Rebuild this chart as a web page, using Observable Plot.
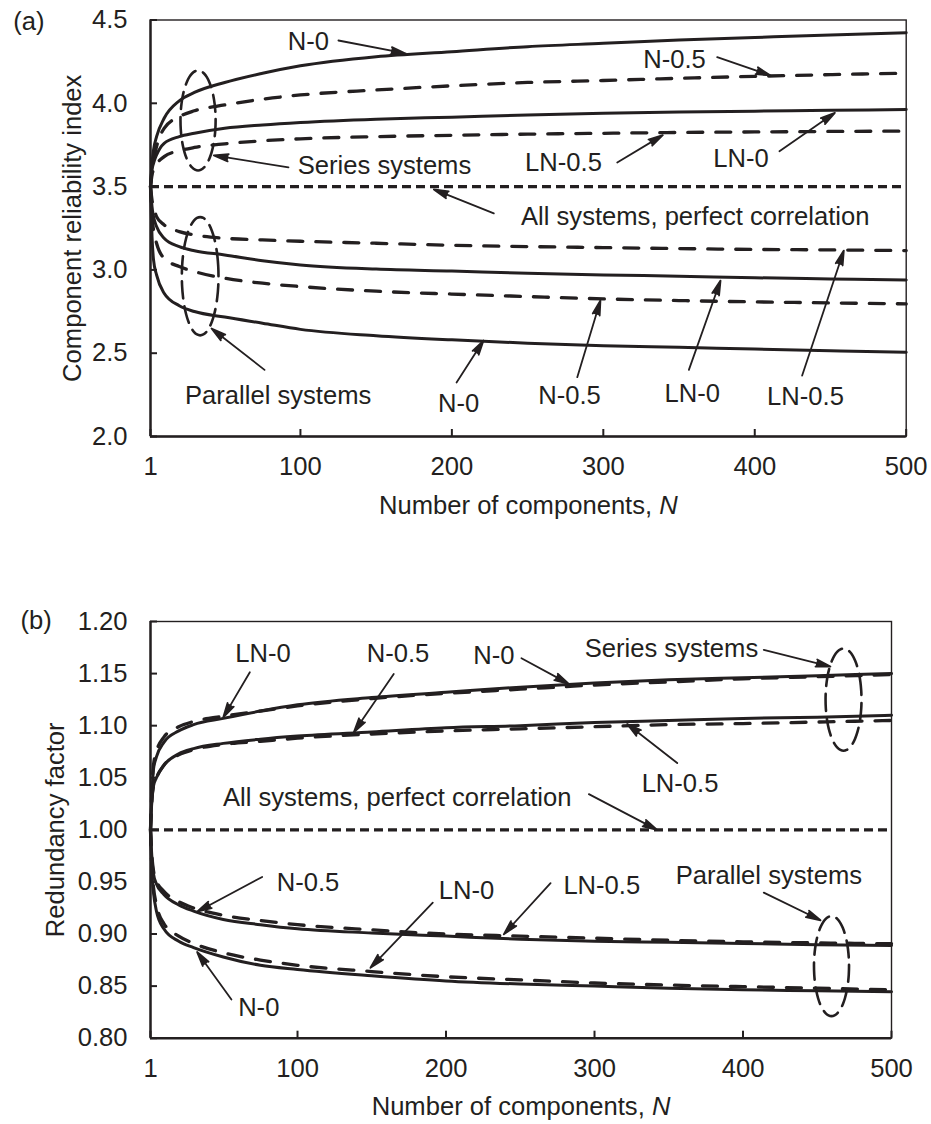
<!DOCTYPE html>
<html><head><meta charset="utf-8">
<script src="https://cdn.jsdelivr.net/npm/d3@7"></script>
<script src="https://cdn.jsdelivr.net/npm/@observablehq/plot@0.6"></script>
<style>
body{margin:0;background:#fff;}
#chart{position:relative;width:931px;height:1124px;}
#chart svg{display:block;}
#chart g[aria-label="arrow"] path{fill:#231f20;stroke-linejoin:miter;}
</style></head><body><div id="chart"></div>
<script>
// ---------- shared ----------
const N = [1,2,3,5,10,20,30,50,75,100,150,200,250,300,350,400,450,500];
const xTicks = [1,100,200,300,400,500];

// ---------- panel (a): component reliability index ----------
const aSeriesN0   = [3.5,3.64,3.72,3.8,3.91,4.015,4.065,4.125,4.18,4.225,4.28,4.31,4.34,4.36,4.38,4.395,4.41,4.423];
const aSeriesN05  = [3.5,3.6,3.66,3.74,3.85,3.92,3.955,3.99,4.025,4.05,4.08,4.105,4.125,4.137,4.15,4.162,4.172,4.181];
const aSeriesLN0  = [3.5,3.6,3.64,3.69,3.76,3.8,3.82,3.85,3.87,3.885,3.905,3.917,3.93,3.94,3.948,3.953,3.958,3.963];
const aSeriesLN05 = [3.5,3.57,3.6,3.635,3.68,3.715,3.735,3.757,3.775,3.787,3.8,3.808,3.815,3.82,3.825,3.828,3.831,3.833];
const aParLN05    = [3.5,3.42,3.38,3.32,3.27,3.23,3.21,3.19,3.18,3.172,3.16,3.148,3.14,3.134,3.128,3.123,3.12,3.116];
const aParLN0     = [3.5,3.38,3.32,3.26,3.19,3.14,3.115,3.09,3.055,3.03,3.005,2.993,2.98,2.97,2.962,2.953,2.946,2.94];
const aParN05     = [3.5,3.32,3.24,3.16,3.07,3.02,2.99,2.95,2.92,2.9,2.872,2.855,2.84,2.826,2.816,2.808,2.802,2.796];
const aParN0      = [3.5,3.2,3.06,2.97,2.86,2.785,2.75,2.717,2.68,2.643,2.605,2.58,2.56,2.545,2.535,2.525,2.515,2.506];
const aPerfect = 3.5;
const aYTicks = [2.0,2.5,3.0,3.5,4.0,4.5];

const aLabels = [
  {x:105.3,y:4.371,t:"N-0"},{x:347,y:4.263,t:"N-0.5"},{x:273.7,y:3.645,t:"LN-0.5"},
  {x:390.9,y:3.669,t:"LN-0"},{x:155.5,y:3.627,t:"Series systems"},
  {x:360.7,y:3.316,t:"All systems, perfect correlation"},{x:85.3,y:2.246,t:"Parallel systems"},
  {x:204.4,y:2.198,t:"N-0"},{x:277.7,y:2.246,t:"N-0.5"},{x:358.7,y:2.258,t:"LN-0"},{x:433.5,y:2.236,t:"LN-0.5"}
];
const aArrows = [
  {x1:125.1,y1:4.377,x2:169.4,y2:4.299},{x1:375.2,y1:4.277,x2:410.4,y2:4.167},
  {x1:309.2,y1:3.645,x2:339.3,y2:3.809},{x1:416.3,y1:3.712,x2:452.9,y2:3.943},
  {x1:92.1,y1:3.616,x2:42.8,y2:3.687},{x1:227.7,y1:3.339,x2:188.1,y2:3.483},
  {x1:76.3,y1:2.4,x2:41.3,y2:2.648},{x1:203.1,y1:2.324,x2:220.9,y2:2.576},
  {x1:282.8,y1:2.356,x2:298.1,y2:2.816},{x1:356.5,y1:2.4,x2:377.4,y2:2.936},
  {x1:431.3,y1:2.366,x2:458.8,y2:3.116}
];
const aEllipses = [{cx:32.4,cy:3.897,rx:11.6,ry:0.300},{cx:33.8,cy:2.962,rx:12.1,ry:0.355}];

// ---------- panel (b): redundancy factor ----------
const bSeriesN0   = [1.0,1.035,1.058,1.07,1.084,1.095,1.101,1.107,1.114,1.12,1.127,1.132,1.137,1.141,1.144,1.146,1.148,1.15];
const bSeriesLN0  = [1.0,1.04,1.062,1.075,1.089,1.099,1.104,1.109,1.114,1.119,1.126,1.131,1.135,1.139,1.142,1.145,1.147,1.149];
const bSeriesN05  = [1.0,1.03,1.042,1.05,1.062,1.073,1.078,1.083,1.087,1.09,1.094,1.098,1.1,1.103,1.105,1.107,1.108,1.11];
const bSeriesLN05 = [1.0,1.03,1.042,1.05,1.062,1.072,1.077,1.082,1.085,1.088,1.092,1.095,1.097,1.099,1.101,1.102,1.1035,1.105];
const bParN05     = [1.0,0.972,0.958,0.948,0.938,0.928,0.922,0.914,0.909,0.905,0.901,0.898,0.895,0.893,0.892,0.891,0.8898,0.889];
const bParLN05    = [1.0,0.974,0.961,0.951,0.941,0.931,0.925,0.918,0.913,0.909,0.904,0.9,0.898,0.896,0.894,0.8925,0.8915,0.8907];
const bParN0      = [1.0,0.958,0.94,0.922,0.905,0.893,0.887,0.878,0.87,0.866,0.86,0.855,0.852,0.85,0.848,0.8465,0.8455,0.8445];
const bParLN0     = [1.0,0.962,0.945,0.928,0.91,0.898,0.891,0.882,0.875,0.87,0.864,0.859,0.856,0.853,0.851,0.8495,0.848,0.8465];
const bPerfect = 1.0;
const bYTicks = [0.80,0.85,0.90,0.95,1.00,1.05,1.10,1.15,1.20];

const bLabels = [
  {x:76.8,y:1.1692,t:"LN-0"},{x:167.7,y:1.1692,t:"N-0.5"},{x:232.2,y:1.1673,t:"N-0"},
  {x:351.8,y:1.174,t:"Series systems"},{x:357.6,y:1.0442,t:"LN-0.5"},
  {x:167.1,y:1.031,t:"All systems, perfect correlation"},{x:107.1,y:0.9493,t:"N-0.5"},
  {x:213.8,y:0.9413,t:"LN-0"},{x:304.9,y:0.9462,t:"LN-0.5"},{x:73.9,y:0.8291,t:"N-0"},
  {x:417.4,y:0.9558,t:"Parallel systems"}
];
const bArrows = [
  {x1:67.9,y1:1.1513,x2:50,y2:1.108},{x1:164.8,y1:1.1497,x2:137.9,y2:1.0936},
  {x1:250.8,y1:1.1647,x2:282.7,y2:1.1401},{x1:414,y1:1.1728,x2:458.9,y2:1.1567},
  {x1:355.7,y1:1.0641,x2:322,y2:1.1016},{x1:296.2,y1:1.0343,x2:342.2,y2:1.0},
  {x1:76.2,y1:0.9548,x2:32.4,y2:0.9214},{x1:191.1,y1:0.9301,x2:149.1,y2:0.8676},
  {x1:270.4,y1:0.9488,x2:238.9,y2:0.8997},{x1:55.5,y1:0.8372,x2:32.4,y2:0.8827},
  {x1:414,y1:0.9397,x2:452.2,y2:0.9132}
];
const bEllipses = [{cx:467.7,cy:1.125,rx:12.1,ry:0.049},{cx:459.6,cy:0.8692,rx:11.8,ry:0.048}];

// ---------- helpers ----------
const ink = "#231f20";
const fontFamily = "'Liberation Sans', Arial, Helvetica, sans-serif";
const fs = 25.6;

function table(list) {
  const out = [];
  for (const s of list) N.forEach((n, i) => out.push({name: s.name, dashed: s.dashed, N: n, v: s.values[i]}));
  return out;
}
function ellipsePts(list) {
  const out = [];
  list.forEach((e, k) => {
    for (let j = 0; j < 36; j++) {
      const t = (j / 36) * 2 * Math.PI;
      out.push({k, x: e.cx + e.rx * Math.cos(t), y: e.cy + e.ry * Math.sin(t)});
    }
  });
  return out;
}

function panel({rows, perfect, yTicks, yFmt, yDomain, labels, arrows, ellipses, tag, tagDx, tagDy,
                yLabel, yLabelDx, height, marginTop, marginBottom, marginRight}) {
  const solid = rows.filter(d => !d.dashed), dashed = rows.filter(d => d.dashed);
  const wFirst = 10.671 * fs, wSpace = 0.278 * fs, wN = 0.722 * fs;
  const start = -(wFirst + wSpace + wN) / 2;
  return Plot.plot({
    width: 931, height, marginLeft: 150, marginRight, marginTop, marginBottom,
    style: {fontFamily, fontSize: fs + "px", color: ink, background: "#fff", overflow: "visible"},
    x: {domain: [1, 500]},
    y: {domain: yDomain},
    marks: [
      Plot.axisX({ticks: xTicks, tickSize: -7, tickPadding: 27.7, tickFormat: d => String(d), label: null, strokeWidth: 2}),
      Plot.axisY({ticks: yTicks, tickSize: -7, tickPadding: 30, tickFormat: yFmt, label: null, strokeWidth: 2}),
      Plot.frame({stroke: ink, strokeWidth: 1.4}),
      Plot.ruleX([1], {stroke: ink, strokeWidth: 2.4}),
      Plot.ruleY([yDomain[0]], {stroke: ink, strokeWidth: 2.4}),
      Plot.ruleY([perfect], {stroke: ink, strokeWidth: 3.2, strokeDasharray: "9,5"}),
      Plot.line(dashed, {x: "N", y: "v", z: "name", stroke: ink, strokeWidth: 3.3, strokeDasharray: "15,13", curve: "monotone-x"}),
      Plot.line(solid, {x: "N", y: "v", z: "name", stroke: ink, strokeWidth: 3, curve: "monotone-x"}),
      Plot.line(ellipsePts(ellipses), {x: "x", y: "y", z: "k", stroke: ink, strokeWidth: 2.6, strokeDasharray: "17,8", curve: "cardinal-closed"}),
      Plot.arrow(arrows, {x1: "x1", y1: "y1", x2: "x2", y2: "y2", stroke: ink, fill: ink, strokeWidth: 1.8, headLength: 12.5, headAngle: 28}),
      Plot.text(labels, {x: "x", y: "y", text: "t", fill: ink}),
      Plot.text([tag], {frameAnchor: "top-left", dx: tagDx, dy: tagDy, textAnchor: "start", lineAnchor: "bottom", fill: ink}),
      Plot.text([yLabel], {frameAnchor: "left", rotate: -90, dx: yLabelDx, lineAnchor: "bottom", textAnchor: "middle", fill: ink}),
      Plot.text(["Number of components,"], {frameAnchor: "bottom", dx: start + wFirst, dy: 77, textAnchor: "end", lineAnchor: "bottom", fill: ink}),
      Plot.text(["N"], {frameAnchor: "bottom", dx: start + wFirst + wSpace, dy: 77, textAnchor: "start", lineAnchor: "bottom", fill: ink, fontStyle: "italic"})
    ]
  });
}

const rowsA = table([
  {name: "aSeriesN0", dashed: false, values: aSeriesN0},
  {name: "aSeriesN05", dashed: true, values: aSeriesN05},
  {name: "aSeriesLN0", dashed: false, values: aSeriesLN0},
  {name: "aSeriesLN05", dashed: true, values: aSeriesLN05},
  {name: "aParLN05", dashed: true, values: aParLN05},
  {name: "aParLN0", dashed: false, values: aParLN0},
  {name: "aParN05", dashed: true, values: aParN05},
  {name: "aParN0", dashed: false, values: aParN0}
]);
const rowsB = table([
  {name: "bSeriesN0", dashed: false, values: bSeriesN0},
  {name: "bSeriesLN0", dashed: true, values: bSeriesLN0},
  {name: "bSeriesN05", dashed: false, values: bSeriesN05},
  {name: "bSeriesLN05", dashed: true, values: bSeriesLN05},
  {name: "bParN05", dashed: false, values: bParN05},
  {name: "bParLN05", dashed: true, values: bParLN05},
  {name: "bParN0", dashed: false, values: bParN0},
  {name: "bParLN0", dashed: true, values: bParLN0}
]);

const chart = document.getElementById("chart");
chart.appendChild(panel({
  rows: rowsA, perfect: aPerfect, yTicks: aYTicks, yFmt: d3.format(".1f"), yDomain: [2, 4.5],
  labels: aLabels, arrows: aArrows, ellipses: aEllipses, tag: "(a)", tagDx: -137.3, tagDy: 9.8,
  yLabel: "Component reliability index", yLabelDx: -70,
  height: 560, marginTop: 19.5, marginBottom: 124, marginRight: 25.3
}));
chart.appendChild(panel({
  rows: rowsB, perfect: bPerfect, yTicks: bYTicks, yFmt: d3.format(".2f"), yDomain: [0.8, 1.2],
  labels: bLabels, arrows: bArrows, ellipses: bEllipses, tag: "(b)", tagDx: -130, tagDy: 7.3,
  yLabel: "Redundancy factor", yLabelDx: -87,
  height: 564, marginTop: 61, marginBottom: 86.3, marginRight: 40
}));
</script>
</body></html>
